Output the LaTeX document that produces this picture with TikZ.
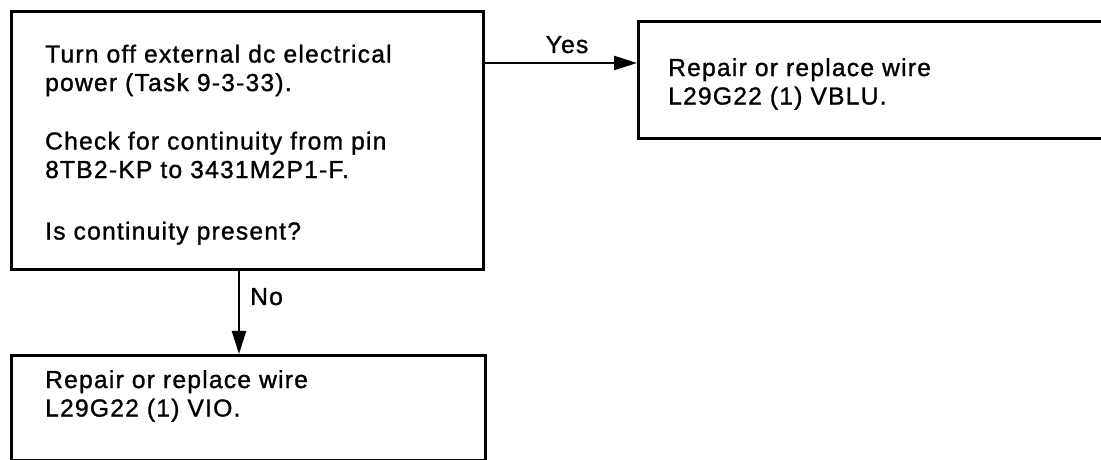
\documentclass[tikz,border=0pt]{standalone}
\usepackage{fontspec}
\setmainfont{Liberation Sans}[LetterSpace=5,FakeBold=1.2]
\usetikzlibrary{arrows.meta}
\begin{document}
\begin{tikzpicture}[x=1pt,y=1pt,
  box/.style={draw, line width=3pt, rectangle, inner sep=0pt, anchor=north west},
  txt/.style={anchor=north west, inner sep=0pt, align=left, font=\fontsize{24.6}{28.5}\selectfont},
  lbl/.style={inner sep=0pt, font=\fontsize{24.6}{28}\selectfont},
  arr/.style={line width=2.4pt, -{Triangle[length=23pt,width=14pt]}}]
\useasboundingbox (0,0) rectangle (1101,460);
\fill[white] (0,0) rectangle (1101,460);
% boxes
\node[box, minimum width=472pt, minimum height=258pt] (box1) at (10,450) {};
\node[box, minimum width=480pt, minimum height=117pt] (box2) at (637,440) {};
\node[box, minimum width=474pt, minimum height=105pt] (box3) at (10,106) {};
% texts
\node[txt] (t1) at (45,415.5) {Turn off external dc electrical\\power (Task 9-3-33).\\[30pt]Check for continuity from pin\\8TB2-KP to 3431M2P1-F.\\[33pt]Is continuity present?};
\node[txt] (t2) at (668,402) {Repair or replace wire\\L29G22 (1) VBLU.};
\node[txt] (t3) at (45,90) {Repair or replace wire\\L29G22 (1) VIO.};
% connectors
\coordinate (ya) at (0,397);
\coordinate (na) at (239,0);
\draw[arr] (box1.east |- ya) -- (box2.west |- ya);
\draw[arr] (box1.south -| na) -- (box3.north -| na);
\node[lbl, anchor=base] (yes) at (567,407) {Yes};
\node[lbl, anchor=base west] (no) at (250,155) {No};
\end{tikzpicture}
\end{document}
